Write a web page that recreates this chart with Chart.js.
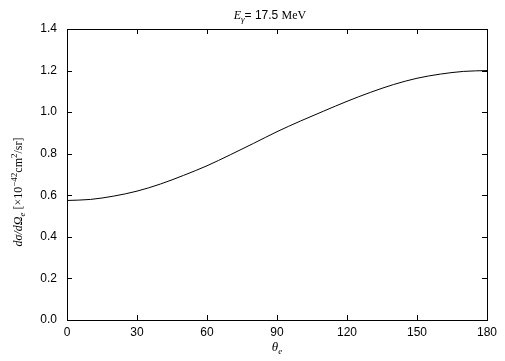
<!DOCTYPE html>
<html>
<head>
<meta charset="utf-8">
<script src="https://cdn.jsdelivr.net/npm/chart.js@4"></script>
<style>
  html, body { margin: 0; padding: 0; background: #fff; }
  canvas { display: block; }
</style>
</head>
<body>
<canvas id="xsec" width="505" height="361"></canvas>
<script>
// angle of the outgoing electron (deg) and cross section (1e-42 cm^2/sr)
const thetaDeg = [0, 10, 20, 30, 40, 50, 60, 70, 80, 90, 100, 110, 120, 130, 140, 150, 160, 170, 180];
const dSigma   = [0.575, 0.580, 0.596, 0.620, 0.654, 0.696, 0.742, 0.795, 0.850, 0.906, 0.957, 1.005, 1.052, 1.095, 1.133, 1.163, 1.183, 1.196, 1.200];
const xTicks = [0, 30, 60, 90, 120, 150, 180];
const yTicks = [0.0, 0.2, 0.4, 0.6, 0.8, 1.0, 1.2, 1.4];

const SANS = "'Liberation Sans', Arial, sans-serif";
const SERIF = "'Liberation Serif', 'Times New Roman', serif";

// draws a row of text pieces (fonts / baseline shifts), centred on cx
function drawPieces(ctx, pieces, cx, y) {
    let total = 0;
    pieces.forEach(p => { ctx.font = p.font; total += ctx.measureText(p.text).width; });
    let x = cx - total / 2;
    ctx.textAlign = 'left';
    ctx.textBaseline = 'alphabetic';
    pieces.forEach(p => {
        ctx.font = p.font;
        ctx.fillText(p.text, x, y + (p.dy || 0));
        x += ctx.measureText(p.text).width;
    });
}

const framePlugin = {
    id: 'frame',
    afterDraw(chart) {
        const ctx = chart.ctx;
        const a = chart.chartArea;
        const xs = chart.scales.x, ys = chart.scales.y;
        ctx.save();
        ctx.strokeStyle = '#000';
        ctx.lineWidth = 1;
        ctx.strokeRect(Math.round(a.left) + 0.5, Math.round(a.top) + 0.5,
                       Math.round(a.right - a.left), Math.round(a.bottom - a.top));
        const tl = 5;
        ctx.beginPath();
        xTicks.forEach(v => {
            const px = Math.round(xs.getPixelForValue(v)) + 0.5;
            ctx.moveTo(px, a.bottom); ctx.lineTo(px, a.bottom - tl);
            ctx.moveTo(px, a.top); ctx.lineTo(px, a.top + tl);
        });
        yTicks.forEach(v => {
            const py = Math.round(ys.getPixelForValue(v)) + 0.5;
            ctx.moveTo(a.left, py); ctx.lineTo(a.left + tl, py);
            ctx.moveTo(a.right, py); ctx.lineTo(a.right - tl, py);
        });
        ctx.stroke();

        ctx.fillStyle = '#000';
        // title  E_γ= 17.5 MeV
        drawPieces(ctx, [
            { text: 'E', font: 'italic 12px ' + SERIF },
            { text: 'γ', font: 'italic 9px ' + SERIF, dy: 3 },
            { text: '= 17.5 ', font: '12px ' + SANS },
            { text: 'MeV', font: '12px ' + SERIF }
        ], 270, 19);

        // x axis title  θ_e
        drawPieces(ctx, [
            { text: 'θ', font: 'italic 13px ' + SERIF },
            { text: 'e', font: 'italic 9px ' + SERIF, dy: 3 }
        ], 277, 351);

        // y axis title  dσ/dΩ_e [×10^-42 cm^2/sr]
        ctx.translate(22, 192);
        ctx.rotate(-Math.PI / 2);
        drawPieces(ctx, [
            { text: 'dσ/dΩ', font: 'italic 12px ' + SERIF },
            { text: 'e', font: 'italic 9px ' + SERIF, dy: 3 },
            { text: ' [×10', font: '12px ' + SERIF },
            { text: '−42', font: '9px ' + SERIF, dy: -5 },
            { text: 'cm', font: '12px ' + SERIF },
            { text: '2', font: '9px ' + SERIF, dy: -5 },
            { text: '/sr]', font: '12px ' + SERIF }
        ], 0, 0);
        ctx.restore();
    }
};

document.addEventListener('DOMContentLoaded', () => {
    const ctx = document.getElementById('xsec').getContext('2d');
    new Chart(ctx, {
        type: 'scatter',
        data: {
            datasets: [{
                data: thetaDeg.map((t, i) => ({ x: t, y: dSigma[i] })),
                showLine: true,
                borderColor: '#000',
                borderWidth: 1,
                pointRadius: 0,
                cubicInterpolationMode: 'monotone'
            }]
        },
        options: {
            responsive: false,
            animation: false,
            devicePixelRatio: 1,
            layout: { padding: { left: 0, top: 29, right: 18, bottom: 0 } },
            plugins: { legend: { display: false }, tooltip: { enabled: false } },
            scales: {
                x: {
                    type: 'linear', min: 0, max: 180,
                    afterBuildTicks: s => { s.ticks = xTicks.map(v => ({ value: v })); },
                    afterFit: s => { s.height = 41; },
                    grid: { display: false, drawTicks: false },
                    border: { display: false },
                    ticks: { color: '#000', padding: 5, maxRotation: 0, font: { family: SANS, size: 12 } }
                },
                y: {
                    min: 0, max: 1.4,
                    afterBuildTicks: s => { s.ticks = yTicks.map(v => ({ value: v })); },
                    afterFit: s => { s.width = 67; },
                    grid: { display: false, drawTicks: false },
                    border: { display: false },
                    ticks: {
                        color: '#000', padding: 10, font: { family: SANS, size: 12 },
                        callback: v => v.toFixed(1)
                    }
                }
            }
        },
        plugins: [framePlugin]
    });
});
</script>
</body>
</html>
